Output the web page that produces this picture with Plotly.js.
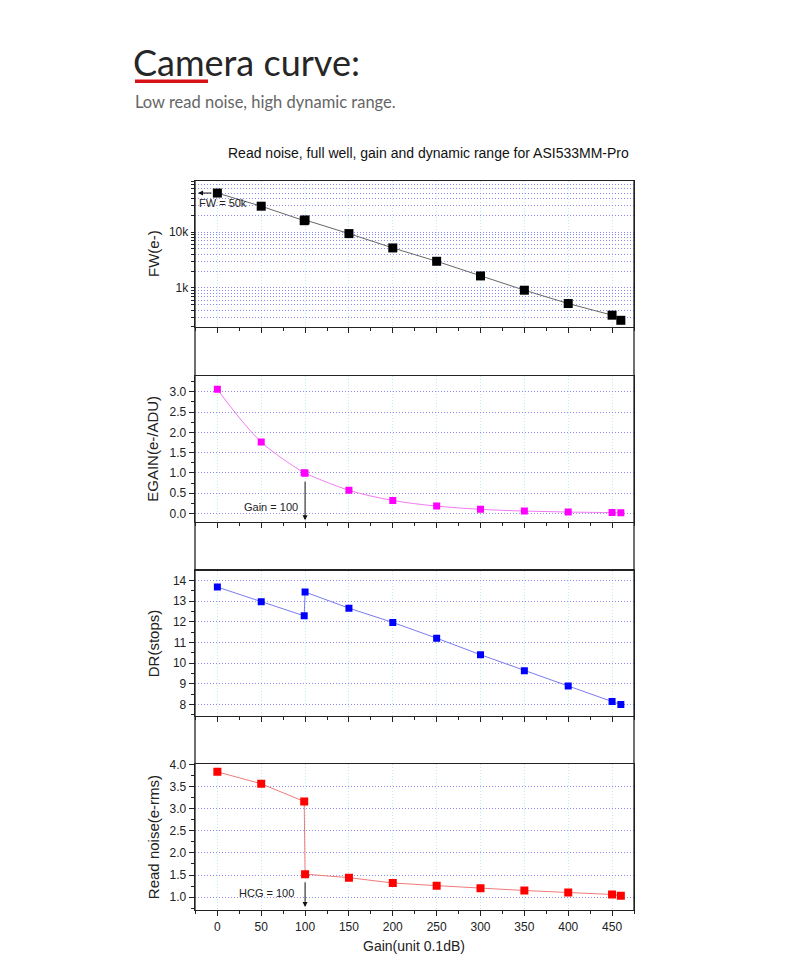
<!DOCTYPE html>
<html>
<head>
<meta charset="utf-8">
<script src="https://cdn.plot.ly/plotly-3.0.1.min.js"></script>
<style>
  html, body { margin: 0; padding: 0; background: #ffffff; }
  #chart { width: 800px; height: 960px; }
</style>
</head>
<body>
<div id="chart"></div>
<script>
// ---- data ----
const gain = [0, 50, 99, 100, 150, 200, 250, 300, 350, 400, 450, 460];
const fullWell = [50000, 29100, 16000, 16500, 9400, 5200, 3000, 1640, 910, 525, 325, 263];
const eGain = [3.06, 1.76, 1.0, 0.99, 0.57, 0.32, 0.18, 0.10, 0.057, 0.033, 0.02, 0.018];
const dynamicRange = [13.68, 12.97, 12.29, 13.44, 12.66, 11.97, 11.21, 10.41, 9.64, 8.90, 8.15, 8.0];
const readNoise = [3.83, 3.56, 3.16, 1.52, 1.44, 1.32, 1.26, 1.20, 1.15, 1.105, 1.06, 1.03];
const fwTickValues = [1000, 10000];
const fwTickLabels = ['1k', '10k'];
const pageTitle = 'Camera curve:';
const pageSubtitle = 'Low read noise, high dynamic range.';
const chartTitle = 'Read noise, full well, gain and dynamic range for ASI533MM-Pro';
const yTitles = ['FW(e-)', 'EGAIN(e-/ADU)', 'DR(stops)', 'Read noise(e-rms)'];
const xTitle = 'Gain(unit 0.1dB)';

// ---- helpers ----
const W = 800, H = 960;
const px = v => v / W;
const py = v => 1 - v / H;
const FONT = '"Liberation Sans", Arial, sans-serif';

// log minor grid values: every integer multiple within each decade
const fwGridVals = [];
const fwGridText = [];
for (let d = 100; d <= 10000; d *= 10) {
  for (let m = 1; m <= 9; m++) {
    const v = m * d;
    if (v < 150 || v > 90000) continue;
    fwGridVals.push(v);
    const idx = fwTickValues.indexOf(v);
    fwGridText.push(idx >= 0 ? fwTickLabels[idx] : '');
  }
}

const left = 195, right = 634;
const panels = [
  { top: 181, bottom: 327 },
  { top: 376, bottom: 521.5 },
  { top: 570.5, bottom: 716 },
  { top: 764.3, bottom: 910 }
];

const gridBlue = '#8a8af0';
const gridCyan = '#bfeaf3';
const lineCol = '#222222';
const DOTS = '1px,2px';

function xAxis(i) {
  return {
    domain: [px(left), px(right)],
    anchor: 'y' + (i === 0 ? '' : i + 1),
    range: [-25.5, 475],
    tick0: 0, dtick: 50,
    ticks: 'outside', ticklen: 5, tickwidth: 1, tickcolor: lineCol,
    minor: { dtick: 25, ticks: 'outside', ticklen: 3, tickcolor: lineCol, showgrid: false },
    showticklabels: i === 3,
    tickfont: { family: FONT, size: 12, color: '#222' },
    showgrid: true, gridcolor: gridCyan, griddash: DOTS, gridwidth: 1,
    zeroline: false,
    showline: true, mirror: true, linecolor: lineCol, linewidth: 1.3
  };
}
function yBase(i) {
  return {
    domain: [py(panels[i].bottom), py(panels[i].top)],
    anchor: 'x' + (i === 0 ? '' : i + 1),
    ticks: 'outside', ticklen: 5, tickwidth: 1, tickcolor: lineCol,
    tickfont: { family: FONT, size: 12, color: '#222' },
    showgrid: true, gridcolor: gridBlue, griddash: DOTS, gridwidth: 1,
    zeroline: false,
    showline: true, mirror: true, linecolor: lineCol, linewidth: 1.3
  };
}

const traces = [
  {
    x: gain, y: fullWell, xaxis: 'x', yaxis: 'y', type: 'scatter', mode: 'lines+markers',
    line: { color: '#666666', width: 1 },
    marker: { symbol: 'square', size: 9, color: '#000000' }
  },
  {
    x: gain, y: eGain, xaxis: 'x2', yaxis: 'y2', type: 'scatter', mode: 'lines+markers',
    line: { color: '#f27af2', width: 1, shape: 'spline' },
    marker: { symbol: 'square', size: 7, color: '#ff00ff' }
  },
  {
    x: gain, y: dynamicRange, xaxis: 'x3', yaxis: 'y3', type: 'scatter', mode: 'lines+markers',
    line: { color: '#7a7af0', width: 1 },
    marker: { symbol: 'square', size: 7, color: '#0000ff' }
  },
  {
    x: gain, y: readNoise, xaxis: 'x4', yaxis: 'y4', type: 'scatter', mode: 'lines+markers',
    line: { color: '#f07a7a', width: 1 },
    marker: { symbol: 'square', size: 8, color: '#ff0000' }
  }
];

const y1 = Object.assign(yBase(0), {
  type: 'log', range: [2.30, 4.915],
  tickmode: 'array', tickvals: fwGridVals, ticktext: fwGridText, ticklen: 3
});
const y2 = Object.assign(yBase(1), {
  range: [-0.2, 3.39], tick0: 0, dtick: 0.5, tickformat: '.1f',
  minor: { dtick: 0.25, ticks: 'outside', ticklen: 3, tickcolor: lineCol, showgrid: false }
});
const y3 = Object.assign(yBase(2), {
  range: [7.45, 14.48], tick0: 0, dtick: 1,
  minor: { dtick: 0.5, ticks: 'outside', ticklen: 3, tickcolor: lineCol, showgrid: false }
});
const y4 = Object.assign(yBase(3), {
  range: [0.71, 4.0], tick0: 0, dtick: 0.5, tickformat: '.1f',
  minor: { dtick: 0.25, ticks: 'outside', ticklen: 3, tickcolor: lineCol, showgrid: false }
});

const annotations = [
  { text: pageTitle, xref: 'paper', yref: 'paper', x: px(131), y: py(62), xanchor: 'left', yanchor: 'middle',
    showarrow: false, font: { family: 'Lato, "Noto Sans", sans-serif', size: 36, color: '#262626' } },
  { text: pageSubtitle, xref: 'paper', yref: 'paper', x: px(133), y: py(102), xanchor: 'left', yanchor: 'middle',
    showarrow: false, font: { family: 'Lato, "Noto Sans", sans-serif', size: 16.5, color: '#666666' } },
  { text: chartTitle, xref: 'paper', yref: 'paper', x: px(428), y: py(153), xanchor: 'center', yanchor: 'middle',
    showarrow: false, font: { family: FONT, size: 14, color: '#111111' } },
  { text: xTitle, xref: 'paper', yref: 'paper', x: px(414), y: py(946), xanchor: 'center', yanchor: 'middle',
    showarrow: false, font: { family: FONT, size: 14, color: '#222222' } },
  // arrows and notes
  { x: -22, y: Math.log10(fullWell[0]), ax: -5, ay: Math.log10(fullWell[0]), xref: 'x', yref: 'y', axref: 'x', ayref: 'y',
    text: '', showarrow: true, arrowhead: 2, arrowsize: 1, arrowwidth: 1, arrowcolor: '#111' },
  { text: 'FW = 50k', xref: 'paper', yref: 'paper', x: px(197), y: py(203.5), xanchor: 'left', yanchor: 'middle',
    showarrow: false, font: { family: FONT, size: 11, color: '#222' } },
  { x: 100, y: -0.17, ax: 100, ay: 0.82, xref: 'x2', yref: 'y2', axref: 'x2', ayref: 'y2',
    text: '', showarrow: true, arrowhead: 2, arrowsize: 1, arrowwidth: 1, arrowcolor: '#111' },
  { text: 'Gain = 100', xref: 'paper', yref: 'paper', x: px(300), y: py(506.5), xanchor: 'right', yanchor: 'middle',
    showarrow: false, font: { family: FONT, size: 11, color: '#222' } },
  { x: 100, y: 0.78, ax: 100, ay: 1.37, xref: 'x4', yref: 'y4', axref: 'x4', ayref: 'y4',
    text: '', showarrow: true, arrowhead: 2, arrowsize: 1, arrowwidth: 1, arrowcolor: '#111' },
  { text: 'HCG = 100', xref: 'paper', yref: 'paper', x: px(296), y: py(893), xanchor: 'right', yanchor: 'middle',
    showarrow: false, font: { family: FONT, size: 11, color: '#222' } }
];
yTitles.forEach((t, i) => {
  annotations.push({
    text: t, xref: 'paper', yref: 'paper', x: px(153), y: py((panels[i].top + panels[i].bottom) / 2),
    xanchor: 'center', yanchor: 'middle', textangle: -90, showarrow: false,
    font: { family: FONT, size: 15, color: '#222222' }
  });
});

const shapes = [
  // red underline under heading
  { type: 'rect', xref: 'paper', yref: 'paper', x0: px(135), x1: px(208), y0: py(83), y1: py(79.5),
    fillcolor: '#d9121a', line: { width: 0 } },
  // outer frame joining the four panels
  { type: 'line', xref: 'paper', yref: 'paper', x0: px(left), x1: px(left), y0: py(panels[0].top), y1: py(panels[3].bottom),
    line: { color: lineCol, width: 1.3 } },
  { type: 'line', xref: 'paper', yref: 'paper', x0: px(right), x1: px(right), y0: py(panels[0].top), y1: py(panels[3].bottom),
    line: { color: lineCol, width: 1.3 } }
];

const layout = {
  width: W, height: H,
  margin: { l: 0, r: 0, t: 0, b: 0 },
  paper_bgcolor: '#ffffff', plot_bgcolor: '#ffffff',
  showlegend: false,
  font: { family: FONT },
  xaxis: xAxis(0), xaxis2: xAxis(1), xaxis3: xAxis(2), xaxis4: xAxis(3),
  yaxis: y1, yaxis2: y2, yaxis3: y3, yaxis4: y4,
  annotations: annotations,
  shapes: shapes
};

Plotly.newPlot('chart', traces, layout, { displayModeBar: false, staticPlot: true });
</script>
</body>
</html>
